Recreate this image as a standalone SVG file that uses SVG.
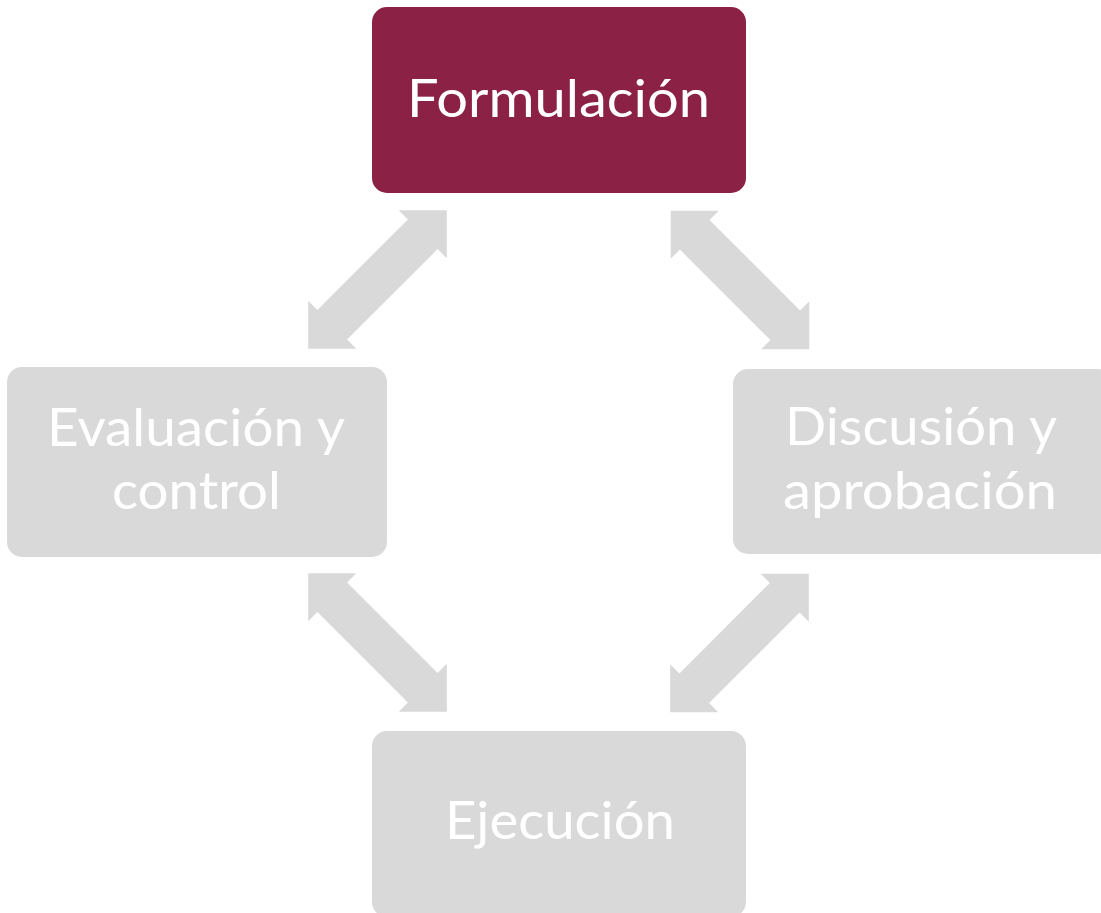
<svg xmlns="http://www.w3.org/2000/svg" width="1101" height="913" viewBox="0 0 1101 913">
  <defs>
    <style>
      .box-main { fill: #8B2144; }
      .box { fill: #D9D9D9; }
      .lbl { font-family: Lato, "Open Sans", "Liberation Sans", sans-serif; font-size: 53px; fill: #FFFFFF; text-anchor: middle; }
      .arrow { fill: #D9D9D9; }
    </style>
    <polygon id="dbl" points="-98,0 -64,-34 -64,-21 64,-21 64,-34 98,0 64,34 64,21 -64,21 -64,34"/>
  </defs>
  <rect width="1101" height="913" fill="#FFFFFF"/>
  <g id="connectors">
    <use href="#dbl" class="arrow" transform="translate(377.5,279.5) rotate(-45)"/>
    <use href="#dbl" class="arrow" transform="translate(740,280) rotate(45)"/>
    <use href="#dbl" class="arrow" transform="translate(377.5,642.5) rotate(45)"/>
    <use href="#dbl" class="arrow" transform="translate(739.5,643) rotate(-45)"/>
  </g>
  <g id="formulacion">
    <rect class="box-main" x="372" y="7" width="374" height="186" rx="15" ry="15"/>
    <text class="lbl" x="558.5" y="117" textLength="303" lengthAdjust="spacingAndGlyphs">Formulación</text>
  </g>
  <g id="discusion">
    <rect class="box" x="733" y="369" width="380" height="185" rx="15" ry="15"/>
    <text class="lbl" x="921" y="445" textLength="272" lengthAdjust="spacingAndGlyphs">Discusión y</text>
    <text class="lbl" x="920" y="509" textLength="274" lengthAdjust="spacingAndGlyphs">aprobación</text>
  </g>
  <g id="ejecucion">
    <rect class="box" x="372" y="731" width="374" height="186" rx="15" ry="15"/>
    <text class="lbl" x="560" y="839" textLength="230" lengthAdjust="spacingAndGlyphs">Ejecución</text>
  </g>
  <g id="evaluacion">
    <rect class="box" x="7" y="367" width="380" height="190" rx="15" ry="15"/>
    <text class="lbl" x="196" y="446" textLength="298" lengthAdjust="spacingAndGlyphs">Evaluación y</text>
    <text class="lbl" x="196.5" y="509" textLength="169" lengthAdjust="spacingAndGlyphs">control</text>
  </g>
</svg>
